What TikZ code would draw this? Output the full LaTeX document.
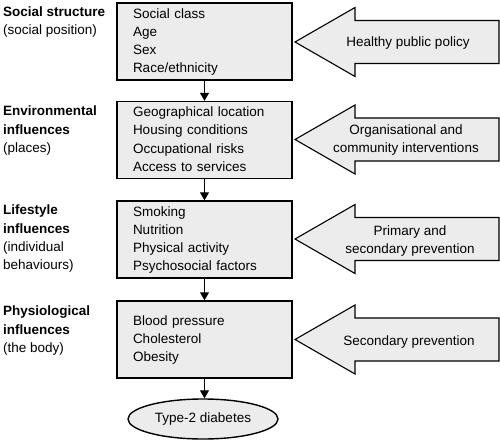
\documentclass[tikz,border=0pt]{standalone}
\usepackage{fontspec}
\setmainfont{Liberation Sans}
\usetikzlibrary{arrows.meta,shapes.geometric}
\definecolor{boxfill}{RGB}{236,236,236}
\newcommand{\ls}{\rule[-3pt]{0pt}{14pt}}
\begin{document}
\begin{tikzpicture}[x=1pt,y=-1pt,
  txt/.style={font=\fontsize{13.5}{18.3}\selectfont},
  factorbox/.style={draw, line width=1.4pt, fill=boxfill, minimum width=175pt,
    minimum height=77pt, text width=143pt, inner xsep=16pt, inner ysep=0pt,
    align=left, txt},
  sidelabel/.style={anchor=north west, inner sep=0pt, align=left, txt},
  flow/.style={-{Triangle[length=8pt,width=9pt]}, line width=1.1pt},
  bigarrow/.style={draw, line width=1.1pt, fill=boxfill, line join=miter},
  arrowtext/.style={align=center, txt, inner sep=0pt},
  outcome/.style={ellipse, draw, line width=1.4pt, fill=boxfill,
    minimum width=150pt, minimum height=40pt, inner sep=0pt, txt}]
\useasboundingbox (0,0) rectangle (500,441);

% left labels
\node[sidelabel] (l1) at (3,5.5) {\ls\textbf{Social structure}\\(social position)};
\node[sidelabel] (l2) at (3,104.5) {\ls\textbf{Environmental}\\\textbf{influences}\\(places)};
\node[sidelabel] (l3) at (3,203.5) {\ls\textbf{Lifestyle}\\\textbf{influences}\\(individual\\behaviours)};
\node[sidelabel] (l4) at (3,304.5) {\ls\textbf{Physiological}\\\textbf{influences}\\(the body)};

% factor boxes
\node[factorbox] (b1) at (204.5,41.5) {\ls Social class\\Age\\Sex\\Race/ethnicity\ls};
\node[factorbox] (b2) at (204.5,140) {\ls Geographical location\\Housing conditions\\Occupational risks\\Access to services\ls};
\node[factorbox] (b3) at (204.5,239.5) {\ls Smoking\\Nutrition\\Physical activity\\Psychosocial factors\ls};
\node[factorbox] (b4) at (204.5,339.5) {\ls Blood pressure\\Cholesterol\\Obesity\ls};
\node[outcome] (d) at (203,419) {Type-2 diabetes};

% flow arrows
\draw[flow] (b1.south) -- (b2.north);
\draw[flow] (b2.south) -- (b3.north);
\draw[flow] (b3.south) -- (b4.north);
\draw[flow] (b4.south) -- (b4.south |- d.north);

% big intervention arrows
\foreach \y/\n in {42/1,139.5/2,239/3,339.5/4}{
  \coordinate (tip\n) at (295,\y);
  \draw[bigarrow] (tip\n) -- ++(60,-34.5) -- ++(0,13) -- ++(144,0) -- ++(0,43)
    -- ++(-144,0) -- ++(0,13) -- cycle;
}
\node[arrowtext] (p1) at (408,43) {Healthy public policy};
\node[arrowtext] (p2) at (406,140) {Organisational and\\community interventions};
\node[arrowtext] (p3) at (410,241) {Primary and\\secondary prevention};
\node[arrowtext] (p4) at (409,342) {Secondary prevention};
\end{tikzpicture}
\end{document}
